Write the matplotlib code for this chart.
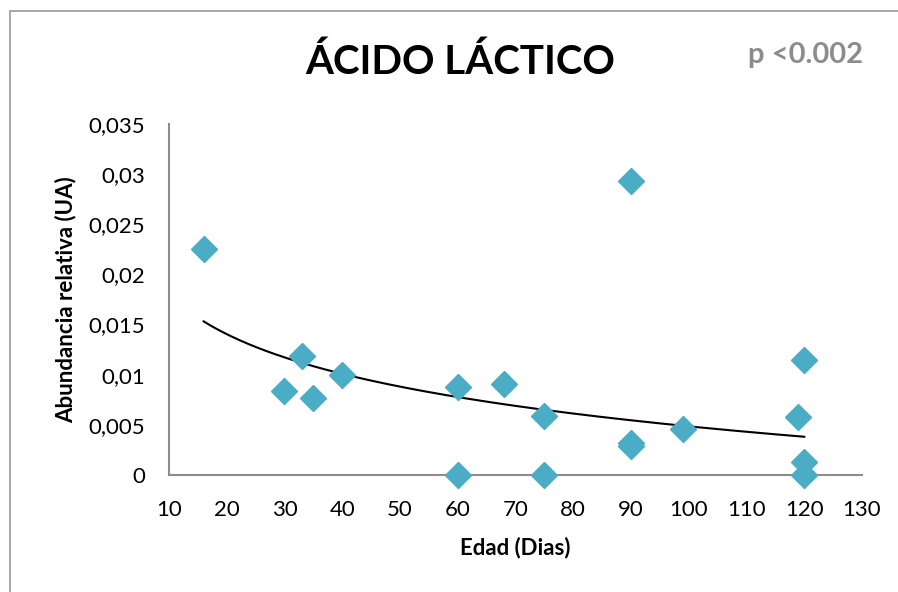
import numpy as np
import matplotlib
matplotlib.use("Agg")
from matplotlib import pyplot as plt
from matplotlib.ticker import FuncFormatter
from matplotlib.patches import Rectangle

plt.rcParams['font.family'] = ['Lato', 'DejaVu Sans']

# Edad (dias) and abundancia relativa
edad = [16, 30, 33, 35, 40, 60, 60, 68, 75, 75, 90, 90, 90, 99, 119, 120, 120, 120]
abundancia = [0.0225, 0.0084, 0.0119, 0.0077, 0.0100, 0.0088, 0.0, 0.0091,
              0.0059, 0.0, 0.0293, 0.0032, 0.0029, 0.0046, 0.0058, 0.0115,
              0.0013, 0.0]
x_ticks = [10, 20, 30, 40, 50, 60, 70, 80, 90, 100, 110, 120, 130]
y_ticks = [0, 0.005, 0.01, 0.015, 0.02, 0.025, 0.03, 0.035]
# logarithmic trendline: y = a + b*ln(x)
trend_a = 0.03115
trend_b = -0.00571

fig = plt.figure(figsize=(8.98, 5.92), dpi=100)
ax = fig.add_axes([169 / 898, 1 - 475 / 592, (862 - 169) / 898, (475 - 124) / 592])

# outer chart border (only top/left visible in the crop)
fig.patches.append(Rectangle((10 / 898, -0.1), 1.2, 1.1 - 11 / 592,
                             transform=fig.transFigure, fill=False,
                             edgecolor='#9a9a9a', linewidth=1.2))

xt = np.linspace(16, 120, 200)
ax.plot(xt, trend_a + trend_b * np.log(xt), color='black', linewidth=1.5, zorder=2)
ax.plot(edad, abundancia, linestyle='none', marker='D', markersize=13.5,
        color='#4BACC6', clip_on=False, zorder=3)

ax.set_xlim(10, 130)
ax.set_ylim(0, 0.035)
ax.set_xticks(x_ticks)
ax.set_yticks(y_ticks)
ax.yaxis.set_major_formatter(FuncFormatter(lambda v, p: ('%g' % v).replace('.', ',')))
ax.tick_params(length=0, labelsize=16)
ax.tick_params(axis='x', pad=18)
ax.tick_params(axis='y', pad=17)
for s in ['top', 'right']:
    ax.spines[s].set_visible(False)
for s in ['left', 'bottom']:
    ax.spines[s].set_color('#8c8c8c')
    ax.spines[s].set_linewidth(1.5)

ax.set_xlabel('Edad (Dias)', fontsize=16, fontweight='bold', labelpad=12)
ax.set_ylabel('Abundancia relativa (UA)', fontsize=16, fontweight='bold', labelpad=9)

fig.text(460 / 898, 1 - 62 / 592, 'ÁCIDO LÁCTICO', fontsize=29, fontweight='bold',
         ha='center', va='center')
fig.text(806 / 898, 1 - 55 / 592, 'p <0.002', fontsize=21, fontweight='bold',
         color='#8c8c8c', ha='center', va='center')

fig.savefig('out.png', dpi=100)
